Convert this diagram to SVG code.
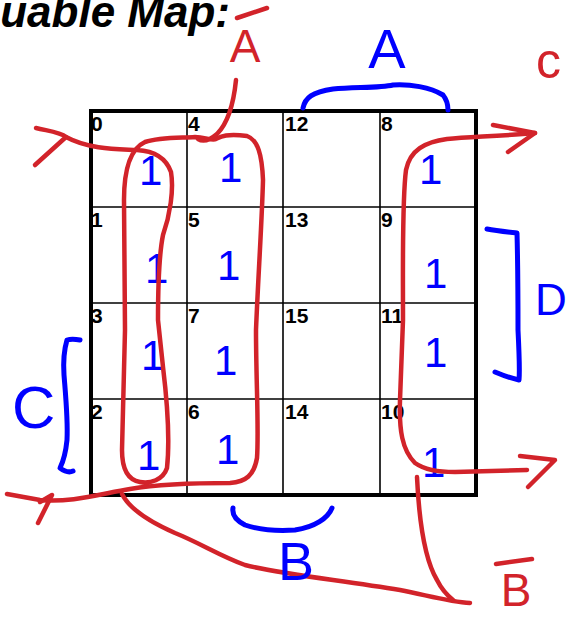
<svg xmlns="http://www.w3.org/2000/svg" width="567" height="618" viewBox="0 0 567 618">
<style>
.num{font-family:"Liberation Sans",Arial,sans-serif;font-weight:bold;font-size:21px;fill:#000}
.title{font-family:"Liberation Sans",Arial,sans-serif;font-weight:bold;font-style:italic;font-size:44px;fill:#000}
.one{font-family:"Liberation Sans",Arial,sans-serif;font-size:42px;fill:#0000ff}
.bl{font-family:"Liberation Sans",Arial,sans-serif;fill:#0000ff}
.rl{font-family:"Liberation Sans",Arial,sans-serif;fill:#d2232a}
.red{fill:none;stroke:#d2232a;stroke-width:4.5;stroke-linecap:round;stroke-linejoin:round}
.blue{fill:none;stroke:#0000ff;stroke-width:5;stroke-linecap:round;stroke-linejoin:round}
.in{stroke:#000;stroke-width:1.6}
</style>
<rect width="567" height="618" fill="#fff"/>
<text class="title" x="230" y="27" text-anchor="end">uable Map:</text>

<g id="cells">
<g id="c0"><text class="num" x="91" y="131">0</text><text class="one" x="139" y="185">1</text></g>
<g id="c4"><text class="num" x="188" y="131">4</text><text class="one" x="219" y="182">1</text></g>
<g id="c12"><text class="num" x="285" y="131">12</text></g>
<g id="c8"><text class="num" x="381" y="131">8</text><text class="one" x="419" y="184">1</text></g>
<g id="c1"><text class="num" x="91" y="227">1</text><text class="one" x="145" y="283">1</text></g>
<g id="c5"><text class="num" x="188" y="227">5</text><text class="one" x="217" y="280">1</text></g>
<g id="c13"><text class="num" x="285" y="227">13</text></g>
<g id="c9"><text class="num" x="381" y="227">9</text><text class="one" x="424" y="288">1</text></g>
<g id="c3"><text class="num" x="91" y="323">3</text><text class="one" x="141" y="370">1</text></g>
<g id="c7"><text class="num" x="188" y="323">7</text><text class="one" x="214" y="375">1</text></g>
<g id="c15"><text class="num" x="285" y="323">15</text></g>
<g id="c11"><text class="num" x="381" y="323">11</text><text class="one" x="424" y="367">1</text></g>
<g id="c2"><text class="num" x="91" y="419">2</text><text class="one" x="137" y="470">1</text></g>
<g id="c6"><text class="num" x="188" y="419">6</text><text class="one" x="216" y="464">1</text></g>
<g id="c14"><text class="num" x="285" y="419">14</text></g>
<g id="c10"><text class="num" x="381" y="419">10</text><text class="one" x="422" y="477">1</text></g>
</g>

<g id="grid">
<line class="in" x1="187" y1="111" x2="187" y2="495"/>
<line class="in" x1="283" y1="111" x2="283" y2="495"/>
<line class="in" x1="380" y1="111" x2="380" y2="495"/>
<line class="in" x1="91" y1="207" x2="476" y2="207"/>
<line class="in" x1="91" y1="303" x2="476" y2="303"/>
<line class="in" x1="91" y1="399" x2="476" y2="399"/>
<rect x="91" y="111" width="385" height="384" fill="none" stroke="#000" stroke-width="4"/>
</g>

<g id="connectors">
<path class="red" d="M36 128 C48 131 60 132 66 137 L35 165"/>
<path class="red" d="M66 137 C90 150 120 149 137 150 C155 151 166 158 171 172 C174 190 170 215 163 235 C159 255 158 290 158 320 L163 367 C167 400 170 440 167 468 C163 480 150 484 140 482 C128 480 122 470 122 450 L125 330 L124 200 C124 165 132 148 145 142 C160 137 180 138 195 137 C205 137 212 141 216 139 C220 137 226 133 247 136 C258 140 262 155 263 180 C262 220 258 280 256 330 C256 380 259 430 257 458 C254 475 246 482 230 483 C200 483 160 484 130 489 C100 494 70 503 40 500 L7 494"/>
<path class="red" d="M40 502 L52 495 L38 523"/>
<path class="red" d="M236 80 C234 100 229 122 217 134 C210 140 203 142 198 139"/>
<path class="red" d="M535 133 C500 136 470 137 447 139 C425 142 410 150 406 170 C402 200 403 260 403 320 L400 400 C399 430 402 450 415 463 C425 470 437 472 455 472 L527 470"/>
<path class="red" d="M493 125 L535 133 L508 152"/>
<path class="red" d="M520 456 L555 460 L528 487"/>
<path class="red" d="M122 494 C130 510 150 522 175 533 C200 543 220 556 245 565 C280 574 340 580 400 590 C430 596 450 602 470 603"/>
<path class="red" d="M417 477 C419 520 425 560 437 580 C442 590 448 596 453 600"/>
</g>

<g id="brackets">
<path class="blue" d="M303 108 C305 98 312 92 333 89 C355 87 380 88 393 85 C410 84 430 87 443 95 C447 100 448 105 448 110"/>
<path class="blue" d="M487 229 C497 231 508 232 517 233 C518 270 518 300 518 330 C519 350 520 370 519 380 C510 378 502 375 495 372"/>
<path class="blue" d="M80 340 C75 339 70 339 67 340 C64 350 63 360 64 375 C66 400 68 420 67 440 C66 450 64 460 60 468 C64 471 69 473 73 471"/>
<path class="blue" d="M233 508 C232 514 235 520 245 525 C260 530 280 531 295 530 C315 527 328 518 332 508"/>
</g>

<g id="labels">
<text class="bl" x="387" y="68" font-size="56" text-anchor="middle">A</text>
<text class="bl" x="535" y="315" font-size="44">D</text>
<text class="bl" x="12" y="428" font-size="60">C</text>
<text class="bl" x="296" y="580" font-size="54" text-anchor="middle">B</text>
<text class="rl" x="245" y="62" font-size="46" text-anchor="middle">A</text>
<line class="red" x1="237" y1="18" x2="267" y2="8"/>
<text class="rl" x="536" y="78" font-size="50">c</text>
<text class="rl" x="516" y="606" font-size="46" text-anchor="middle">B</text>
<line class="red" x1="496" y1="564" x2="532" y2="559"/>
</g>
</svg>
